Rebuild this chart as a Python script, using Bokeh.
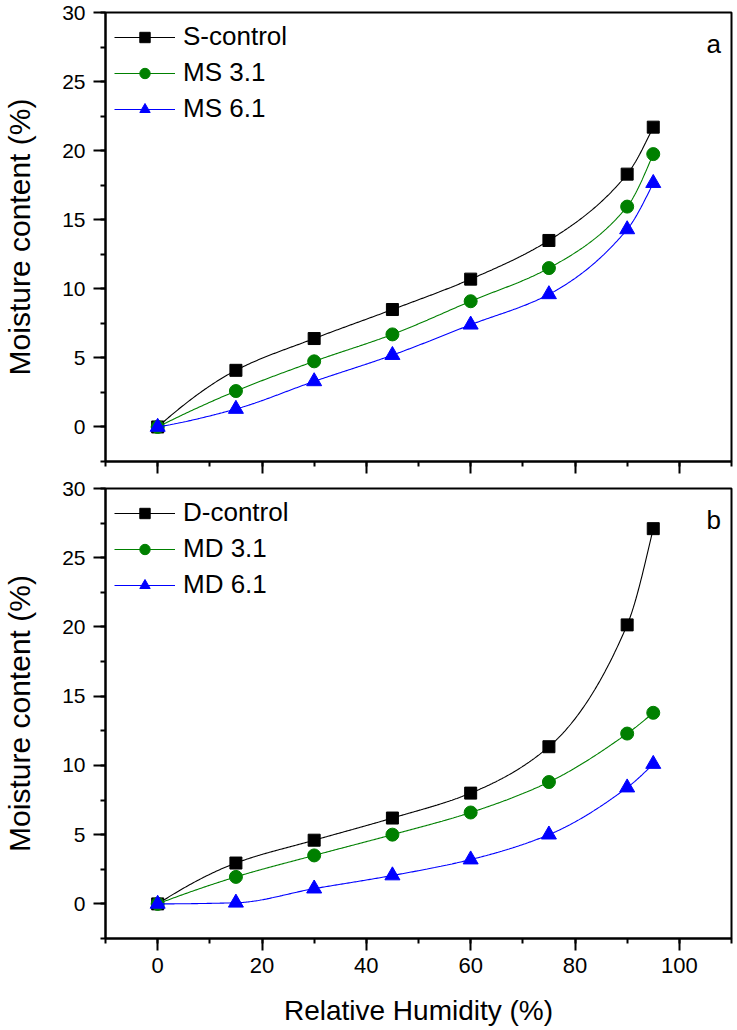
import numpy as np
from bokeh.plotting import figure
from bokeh.layouts import column
from bokeh.models import (Legend, LegendItem, SingleIntervalTicker, Label,
                          CustomLabelingPolicy)
from bokeh.embed import file_html
from bokeh.resources import INLINE

# ---- data ----
rh = [0, 15, 30, 45, 60, 75, 90, 95]

s_control = [0.0, 4.1, 6.4, 8.5, 10.7, 13.5, 18.3, 21.7]
ms_31 = [0.0, 2.6, 4.75, 6.7, 9.1, 11.5, 15.95, 19.75]
ms_61 = [0.0, 1.3, 3.3, 5.2, 7.4, 9.6, 14.3, 17.65]

d_control = [0.0, 2.95, 4.6, 6.2, 8.0, 11.35, 20.15, 27.1]
md_31 = [0.0, 1.95, 3.5, 5.0, 6.6, 8.8, 12.3, 13.8]
md_61 = [0.0, 0.08, 1.1, 2.05, 3.2, 5.0, 8.4, 10.1]

top_names = ["S-control", "MS 3.1", "MS 6.1"]
bottom_names = ["D-control", "MD 3.1", "MD 6.1"]
panel_tags = ["a", "b"]

colors = ["black", "#008000", "#0000FF"]
markers = ["square", "circle", "triangle"]
msizes = [12, 13, 15]

FONT = "Liberation Sans"


def pchip(x, y, xs):
    x = np.asarray(x, float)
    y = np.asarray(y, float)
    n = len(x)
    h = np.diff(x)
    d = np.diff(y) / h
    m = np.zeros(n)
    for k in range(1, n - 1):
        if d[k - 1] * d[k] > 0:
            w1 = 2 * h[k] + h[k - 1]
            w2 = h[k] + 2 * h[k - 1]
            m[k] = (w1 + w2) / (w1 / d[k - 1] + w2 / d[k])

    def end(h0, h1, d0, d1):
        v = ((2 * h0 + h1) * d0 - h0 * d1) / (h0 + h1)
        if np.sign(v) != np.sign(d0):
            v = 0.0
        elif np.sign(d0) != np.sign(d1) and abs(v) > abs(3 * d0):
            v = 3 * d0
        return v

    m[0] = end(h[0], h[1], d[0], d[1])
    m[-1] = end(h[-1], h[-2], d[-1], d[-2])
    out = np.empty_like(xs)
    idx = np.clip(np.searchsorted(x, xs) - 1, 0, n - 2)
    for i, xv in enumerate(xs):
        k = idx[i]
        t = (xv - x[k]) / h[k]
        h00 = 2 * t**3 - 3 * t**2 + 1
        h10 = t**3 - 2 * t**2 + t
        h01 = -2 * t**3 + 3 * t**2
        h11 = t**3 - t**2
        out[i] = h00 * y[k] + h10 * h[k] * m[k] + h01 * y[k + 1] + h11 * h[k] * m[k + 1]
    return out


hide_all = CustomLabelingPolicy(
    code="for (let i = 0; i < indices.size; i++) { indices.unset(i) } return indices")


def make_panel(series, names, tag, height, btop, bbottom, bottom_labels):
    p = figure(width=737, height=height, x_range=(-10, 110), y_range=(-2.5, 30),
               output_backend="svg", toolbar_location=None,
               min_border_left=105, min_border_right=6,
               min_border_top=btop, min_border_bottom=bbottom)
    p.grid.visible = False
    p.outline_line_color = "black"
    p.outline_line_width = 2
    p.background_fill_color = "white"
    p.border_fill_color = "white"

    xa = p.xaxis[0]
    xa.ticker = SingleIntervalTicker(interval=20, num_minor_ticks=2)
    ya = p.yaxis[0]
    ya.ticker = SingleIntervalTicker(interval=5, num_minor_ticks=2)
    for ax in (xa, ya):
        ax.axis_line_width = 2
        ax.major_tick_line_width = 2
        ax.minor_tick_line_width = 2
        ax.major_tick_out = 12
        ax.major_tick_in = 0
        ax.minor_tick_out = 5
        ax.minor_tick_in = 0
        ax.major_label_text_font = FONT
        ax.major_label_text_color = "black"
        ax.axis_label_text_font = FONT
        ax.axis_label_text_font_style = "normal"
        ax.axis_label_text_color = "black"
    ya.major_label_text_font_size = "21px"
    ya.major_label_standoff = 8
    ya.axis_label = "Moisture content (%)"
    ya.axis_label_text_font_size = "30px"
    ya.axis_label_standoff = 23
    if bottom_labels:
        xa.major_label_text_font_size = "22px"
        xa.major_label_standoff = 7
        xa.axis_label = "Relative Humidity (%)"
        xa.axis_label_text_font_size = "28px"
        xa.axis_label_standoff = 19
    else:
        xa.major_label_text_font_size = "1px"
        xa.major_label_standoff = 0
        xa.major_label_policy = hide_all

    xs = np.linspace(rh[0], rh[-1], 400)
    items = []
    for vals, name, c, mk, ms in zip(series, names, colors, markers, msizes):
        ln = p.line(xs, pchip(rh, vals, xs), line_color=c, line_width=1.1)
        sc = p.scatter(rh, vals, marker=mk, size=ms, fill_color=c, line_color=c)
        items.append(LegendItem(label=name, renderers=[ln, sc]))
    leg = Legend(items=items, location="top_left")
    leg.margin = 9
    leg.padding = 0
    leg.border_line_color = None
    leg.background_fill_alpha = 0
    leg.glyph_width = 61
    leg.glyph_height = 26
    leg.label_height = 26
    leg.label_standoff = 8
    leg.spacing = 5
    leg.label_text_font = FONT
    leg.label_text_font_size = "26px"
    leg.label_text_color = "black"
    p.add_layout(leg)

    p.add_layout(Label(x=106.6, y=27.7, text=tag, text_font=FONT,
                       text_font_size="26px", text_align="center",
                       text_baseline="middle", text_color="black"))
    return p


p1 = make_panel([s_control, ms_31, ms_61], top_names, panel_tags[0],
                477, 12, 16, False)
p2 = make_panel([d_control, md_31, md_61], bottom_names, panel_tags[1],
                553, 11, 92, True)

layout = column(p1, p2, spacing=0)
open("out.html", "w").write(file_html(layout, INLINE))
